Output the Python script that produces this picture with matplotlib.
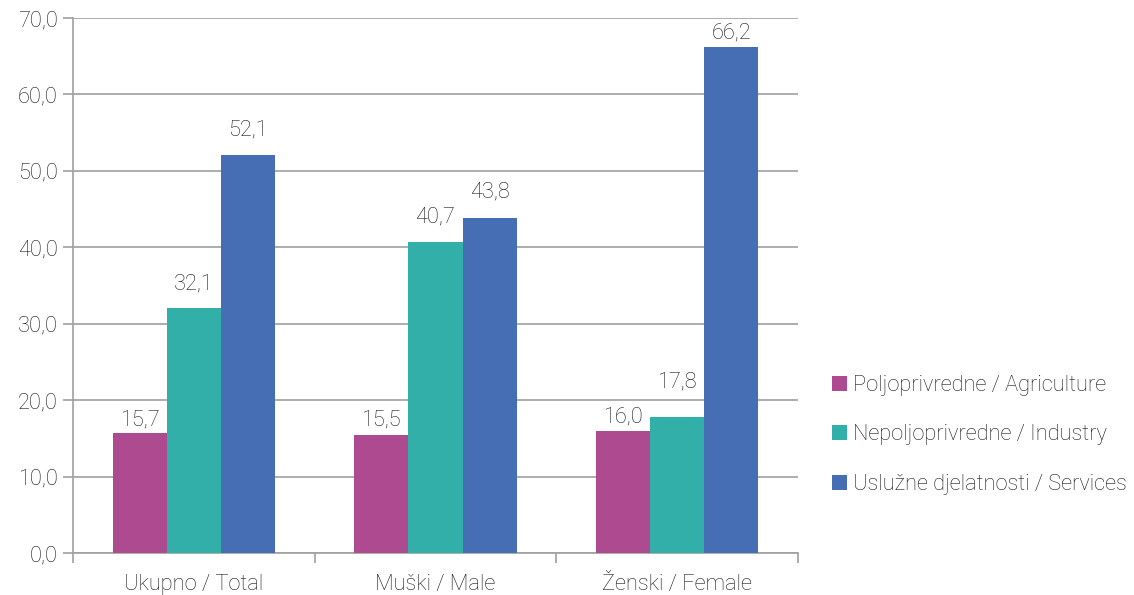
import matplotlib
matplotlib.use("Agg")
import matplotlib.pyplot as plt
import numpy as np

categories = ["Ukupno / Total", "Muški / Male", "Ženski / Female"]
series_names = ["Poljoprivredne / Agriculture", "Nepoljoprivredne / Industry", "Uslužne djelatnosti / Services"]
agriculture = [15.7, 15.5, 16.0]
industry = [32.1, 40.7, 17.8]
services = [52.1, 43.8, 66.2]
colors = ["#AE4A8F", "#33AFAA", "#456EB4"]
yticks = [0, 10, 20, 30, 40, 50, 60, 70]

plt.rcParams['font.family'] = ['Roboto', 'DejaVu Sans']
plt.rcParams['font.weight'] = 'light'

FS = 15.7
TXT = "#1a1a1a"

fig = plt.figure(figsize=(11.34, 5.95), dpi=100)
ax = fig.add_axes([73/1134, 42/595, (798-73)/1134, (553-18)/595])

x = np.arange(len(categories))
w = 0.224
grid_c = "#A0A0A0"
# vertical gap (pixels) between bar top and label centre, as placed in the original
label_gap_px = [[13, 15, 14], [24, 25, 35], [25, 26, 14]]
for i, (vals, name, c) in enumerate(zip([agriculture, industry, services], series_names, colors)):
    pos = x + (i - 1) * w
    ax.bar(pos, vals, width=w, color=c, label=name, zorder=3)
    for j, (xp, v) in enumerate(zip(pos, vals)):
        ax.annotate(f"{v:.1f}".replace(".", ","), (xp, v),
                    xytext=(0, label_gap_px[i][j] * 0.72), textcoords="offset points",
                    ha="center", va="center", fontsize=FS, color=TXT, zorder=4)

ax.set_xlim(-0.5, 2.5)
ax.set_ylim(0, 70)
ax.set_yticks(yticks)
ax.set_yticklabels([f"{t:.1f}".replace(".", ",") for t in yticks], fontsize=FS, color=TXT)
ax.yaxis.grid(True, color=grid_c, linewidth=1.2, zorder=0)
ax.tick_params(axis="y", length=7, color=grid_c, width=1.2, pad=4)

ax.set_xticks([-0.5, 0.5, 1.5, 2.5])
ax.set_xticklabels([])
ax.set_xticks(x, minor=True)
ax.set_xticklabels(categories, minor=True, fontsize=FS, color=TXT)
ax.tick_params(axis="x", which="major", length=7, color=grid_c, width=1.2)
ax.tick_params(axis="x", which="minor", length=0, pad=15)

for s in ["top", "right"]:
    ax.spines[s].set_visible(False)
for s in ["left", "bottom"]:
    ax.spines[s].set_color(grid_c)
    ax.spines[s].set_linewidth(1.2)

leg = fig.legend(loc="center left", bbox_to_anchor=(832/1134, 1 - 435/595), frameon=False,
                 fontsize=FS, handlelength=0.68, handleheight=0.68, handletextpad=0.3,
                 labelspacing=1.3, borderaxespad=0, borderpad=0)
for t in leg.get_texts():
    t.set_color(TXT)

fig.savefig("out.png", dpi=100)
